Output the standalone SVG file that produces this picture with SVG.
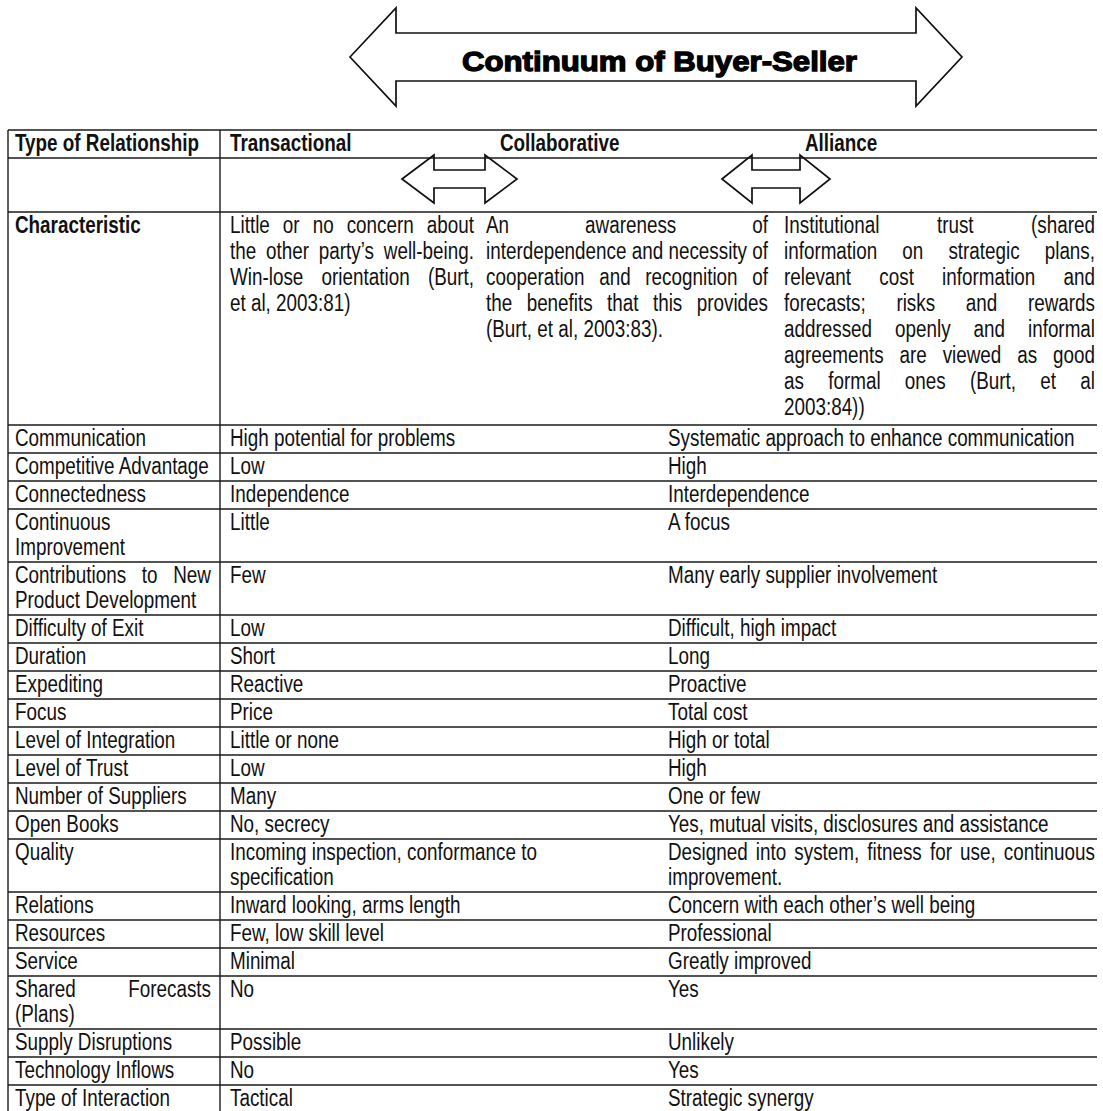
<svg xmlns="http://www.w3.org/2000/svg" width="1103" height="1111" viewBox="0 0 1103 1111">
  <style>
    .t { font-family: "Liberation Sans", Arial, sans-serif; font-size: 23px; fill: #111; }
    .b { font-weight: bold; }
    .title { font-family: "Liberation Sans", Arial, sans-serif; font-weight: bold; font-size: 28px; fill: #000; stroke: #000; stroke-width: 1.3; }
    .grid line { stroke: #1a1a1a; stroke-width: 1.4; }
    .arrow { fill: none; stroke: #111; stroke-width: 1.7; stroke-linejoin: miter; }
  </style>
  <rect width="1103" height="1111" fill="#fff"/>

  <!-- Big double arrow with the continuum caption -->
  <g id="continuum">
    <polygon class="arrow" points="350,57 396,8 396,33 916,33 916,8 962,57 916,106 916,81 396,81 396,106"/>
    <text class="title" x="462" y="71" textLength="395" lengthAdjust="spacingAndGlyphs">Continuum of Buyer-Seller</text>
  </g>

  <!-- Table rules -->
  <g id="grid" class="grid">
    <line x1="8" y1="130" x2="8" y2="1111"/>
    <line x1="220" y1="130" x2="220" y2="1111"/>
    <line x1="8" y1="130" x2="1097" y2="130"/>
    <line x1="8" y1="158" x2="1097" y2="158"/>
    <line x1="8" y1="212" x2="1097" y2="212"/>
    <line x1="8" y1="425" x2="1097" y2="425"/>
    <line x1="8" y1="453" x2="1097" y2="453"/>
    <line x1="8" y1="481" x2="1097" y2="481"/>
    <line x1="8" y1="509" x2="1097" y2="509"/>
    <line x1="8" y1="562" x2="1097" y2="562"/>
    <line x1="8" y1="615" x2="1097" y2="615"/>
    <line x1="8" y1="643" x2="1097" y2="643"/>
    <line x1="8" y1="671" x2="1097" y2="671"/>
    <line x1="8" y1="699" x2="1097" y2="699"/>
    <line x1="8" y1="727" x2="1097" y2="727"/>
    <line x1="8" y1="755" x2="1097" y2="755"/>
    <line x1="8" y1="783" x2="1097" y2="783"/>
    <line x1="8" y1="811" x2="1097" y2="811"/>
    <line x1="8" y1="839" x2="1097" y2="839"/>
    <line x1="8" y1="892" x2="1097" y2="892"/>
    <line x1="8" y1="920" x2="1097" y2="920"/>
    <line x1="8" y1="948" x2="1097" y2="948"/>
    <line x1="8" y1="976" x2="1097" y2="976"/>
    <line x1="8" y1="1029" x2="1097" y2="1029"/>
    <line x1="8" y1="1057" x2="1097" y2="1057"/>
    <line x1="8" y1="1085" x2="1097" y2="1085"/>
  </g>

  <!-- Small double arrows between the relationship types -->
  <g id="connectors">
    <polygon class="arrow" points="402,179 434,155 434,170 485,170 485,155 517,179 485,203 485,188 434,188 434,203"/>
    <polygon class="arrow" points="722,179 752,155 752,170 800,170 800,155 830,179 800,203 800,188 752,188 752,203"/>
  </g>

  <g id="header">
    <text class="t b" transform="translate(15 151) scale(.82 1)">Type of Relationship</text>
    <text class="t b" transform="translate(230 151) scale(.82 1)">Transactional</text>
    <text class="t b" transform="translate(500 151) scale(.82 1)">Collaborative</text>
    <text class="t b" transform="translate(805 151) scale(.82 1)">Alliance</text>
  </g>

  <g id="characteristic">
    <text class="t b" transform="translate(15 233) scale(.82 1)">Characteristic</text>
    <!-- Transactional -->
    <text class="t" transform="translate(230 233) scale(.82 1)" style="word-spacing:9.5px" textLength="297.6" lengthAdjust="spacing">Little or no concern about</text>
    <text class="t" transform="translate(230 259) scale(.82 1)" style="word-spacing:5.5px" textLength="297.6" lengthAdjust="spacing">the other party’s well-being.</text>
    <text class="t" transform="translate(230 285) scale(.82 1)" style="word-spacing:15.9px" textLength="297.6" lengthAdjust="spacing">Win-lose orientation (Burt,</text>
    <text class="t" transform="translate(230 311) scale(.82 1)">et al, 2003:81)</text>
    <!-- Collaborative -->
    <text class="t" transform="translate(486 233) scale(.82 1)" style="word-spacing:86.3px" textLength="343.9" lengthAdjust="spacing">An awareness of</text>
    <text class="t" transform="translate(486 259) scale(.82 1)" textLength="343.9" lengthAdjust="spacing">interdependence and necessity of</text>
    <text class="t" transform="translate(486 285) scale(.82 1)" style="word-spacing:11.5px" textLength="343.9" lengthAdjust="spacing">cooperation and recognition of</text>
    <text class="t" transform="translate(486 311) scale(.82 1)" style="word-spacing:11.2px" textLength="343.9" lengthAdjust="spacing">the benefits that this provides</text>
    <text class="t" transform="translate(486 337) scale(.82 1)">(Burt, et al, 2003:83).</text>
    <!-- Alliance -->
    <text class="t" transform="translate(784 233) scale(.82 1)" style="word-spacing:63.8px" textLength="379.3" lengthAdjust="spacing">Institutional trust (shared</text>
    <text class="t" transform="translate(784 259) scale(.82 1)" style="word-spacing:24.2px" textLength="379.3" lengthAdjust="spacing">information on strategic plans,</text>
    <text class="t" transform="translate(784 285) scale(.82 1)" style="word-spacing:28px" textLength="379.3" lengthAdjust="spacing">relevant cost information and</text>
    <text class="t" transform="translate(784 311) scale(.82 1)" style="word-spacing:31px" textLength="379.3" lengthAdjust="spacing">forecasts; risks and rewards</text>
    <text class="t" transform="translate(784 337) scale(.82 1)" style="word-spacing:21.6px" textLength="379.3" lengthAdjust="spacing">addressed openly and informal</text>
    <text class="t" transform="translate(784 363) scale(.82 1)" style="word-spacing:13px" textLength="379.3" lengthAdjust="spacing">agreements are viewed as good</text>
    <text class="t" transform="translate(784 389) scale(.82 1)" style="word-spacing:23.2px" textLength="379.3" lengthAdjust="spacing">as formal ones (Burt, et al</text>
    <text class="t" transform="translate(784 415) scale(.82 1)">2003:84))</text>
  </g>

  <g id="row-communication">
    <text class="t" transform="translate(15 446) scale(.82 1)">Communication</text>
    <text class="t" transform="translate(230 446) scale(.82 1)">High potential for problems</text>
    <text class="t" transform="translate(668 446) scale(.82 1)">Systematic approach to enhance communication</text>
  </g>
  <g id="row-competitive-advantage">
    <text class="t" transform="translate(15 474) scale(.82 1)">Competitive Advantage</text>
    <text class="t" transform="translate(230 474) scale(.82 1)">Low</text>
    <text class="t" transform="translate(668 474) scale(.82 1)">High</text>
  </g>
  <g id="row-connectedness">
    <text class="t" transform="translate(15 502) scale(.82 1)">Connectedness</text>
    <text class="t" transform="translate(230 502) scale(.82 1)">Independence</text>
    <text class="t" transform="translate(668 502) scale(.82 1)">Interdependence</text>
  </g>
  <g id="row-continuous-improvement">
    <text class="t" transform="translate(15 530) scale(.82 1)">Continuous</text>
    <text class="t" transform="translate(15 555) scale(.82 1)">Improvement</text>
    <text class="t" transform="translate(230 530) scale(.82 1)">Little</text>
    <text class="t" transform="translate(668 530) scale(.82 1)">A focus</text>
  </g>
  <g id="row-contributions">
    <text class="t" transform="translate(15 583) scale(.82 1)" style="word-spacing:12.75px" textLength="239" lengthAdjust="spacing">Contributions to New</text>
    <text class="t" transform="translate(15 608) scale(.82 1)">Product Development</text>
    <text class="t" transform="translate(230 583) scale(.82 1)">Few</text>
    <text class="t" transform="translate(668 583) scale(.82 1)">Many early supplier involvement</text>
  </g>
  <g id="row-difficulty-of-exit">
    <text class="t" transform="translate(15 636) scale(.82 1)">Difficulty of Exit</text>
    <text class="t" transform="translate(230 636) scale(.82 1)">Low</text>
    <text class="t" transform="translate(668 636) scale(.82 1)">Difficult, high impact</text>
  </g>
  <g id="row-duration">
    <text class="t" transform="translate(15 664) scale(.82 1)">Duration</text>
    <text class="t" transform="translate(230 664) scale(.82 1)">Short</text>
    <text class="t" transform="translate(668 664) scale(.82 1)">Long</text>
  </g>
  <g id="row-expediting">
    <text class="t" transform="translate(15 692) scale(.82 1)">Expediting</text>
    <text class="t" transform="translate(230 692) scale(.82 1)">Reactive</text>
    <text class="t" transform="translate(668 692) scale(.82 1)">Proactive</text>
  </g>
  <g id="row-focus">
    <text class="t" transform="translate(15 720) scale(.82 1)">Focus</text>
    <text class="t" transform="translate(230 720) scale(.82 1)">Price</text>
    <text class="t" transform="translate(668 720) scale(.82 1)">Total cost</text>
  </g>
  <g id="row-level-of-integration">
    <text class="t" transform="translate(15 748) scale(.82 1)">Level of Integration</text>
    <text class="t" transform="translate(230 748) scale(.82 1)">Little or none</text>
    <text class="t" transform="translate(668 748) scale(.82 1)">High or total</text>
  </g>
  <g id="row-level-of-trust">
    <text class="t" transform="translate(15 776) scale(.82 1)">Level of Trust</text>
    <text class="t" transform="translate(230 776) scale(.82 1)">Low</text>
    <text class="t" transform="translate(668 776) scale(.82 1)">High</text>
  </g>
  <g id="row-number-of-suppliers">
    <text class="t" transform="translate(15 804) scale(.82 1)">Number of Suppliers</text>
    <text class="t" transform="translate(230 804) scale(.82 1)">Many</text>
    <text class="t" transform="translate(668 804) scale(.82 1)">One or few</text>
  </g>
  <g id="row-open-books">
    <text class="t" transform="translate(15 832) scale(.82 1)">Open Books</text>
    <text class="t" transform="translate(230 832) scale(.82 1)">No, secrecy</text>
    <text class="t" transform="translate(668 832) scale(.82 1)">Yes, mutual visits, disclosures and assistance</text>
  </g>
  <g id="row-quality">
    <text class="t" transform="translate(15 860) scale(.82 1)">Quality</text>
    <text class="t" transform="translate(230 860) scale(.82 1)">Incoming inspection, conformance to</text>
    <text class="t" transform="translate(230 885) scale(.82 1)">specification</text>
    <text class="t" transform="translate(668 860) scale(.82 1)" style="word-spacing:3.5px" textLength="520.7" lengthAdjust="spacing">Designed into system, fitness for use, continuous</text>
    <text class="t" transform="translate(668 885) scale(.82 1)">improvement.</text>
  </g>
  <g id="row-relations">
    <text class="t" transform="translate(15 913) scale(.82 1)">Relations</text>
    <text class="t" transform="translate(230 913) scale(.82 1)">Inward looking, arms length</text>
    <text class="t" transform="translate(668 913) scale(.82 1)">Concern with each other’s well being</text>
  </g>
  <g id="row-resources">
    <text class="t" transform="translate(15 941) scale(.82 1)">Resources</text>
    <text class="t" transform="translate(230 941) scale(.82 1)">Few, low skill level</text>
    <text class="t" transform="translate(668 941) scale(.82 1)">Professional</text>
  </g>
  <g id="row-service">
    <text class="t" transform="translate(15 969) scale(.82 1)">Service</text>
    <text class="t" transform="translate(230 969) scale(.82 1)">Minimal</text>
    <text class="t" transform="translate(668 969) scale(.82 1)">Greatly improved</text>
  </g>
  <g id="row-shared-forecasts">
    <text class="t" transform="translate(15 997) scale(.82 1)" style="word-spacing:57.5px" textLength="239" lengthAdjust="spacing">Shared Forecasts</text>
    <text class="t" transform="translate(15 1022) scale(.82 1)">(Plans)</text>
    <text class="t" transform="translate(230 997) scale(.82 1)">No</text>
    <text class="t" transform="translate(668 997) scale(.82 1)">Yes</text>
  </g>
  <g id="row-supply-disruptions">
    <text class="t" transform="translate(15 1050) scale(.82 1)">Supply Disruptions</text>
    <text class="t" transform="translate(230 1050) scale(.82 1)">Possible</text>
    <text class="t" transform="translate(668 1050) scale(.82 1)">Unlikely</text>
  </g>
  <g id="row-technology-inflows">
    <text class="t" transform="translate(15 1078) scale(.82 1)">Technology Inflows</text>
    <text class="t" transform="translate(230 1078) scale(.82 1)">No</text>
    <text class="t" transform="translate(668 1078) scale(.82 1)">Yes</text>
  </g>
  <g id="row-type-of-interaction">
    <text class="t" transform="translate(15 1106) scale(.82 1)">Type of Interaction</text>
    <text class="t" transform="translate(230 1106) scale(.82 1)">Tactical</text>
    <text class="t" transform="translate(668 1106) scale(.82 1)">Strategic synergy</text>
  </g>
</svg>
